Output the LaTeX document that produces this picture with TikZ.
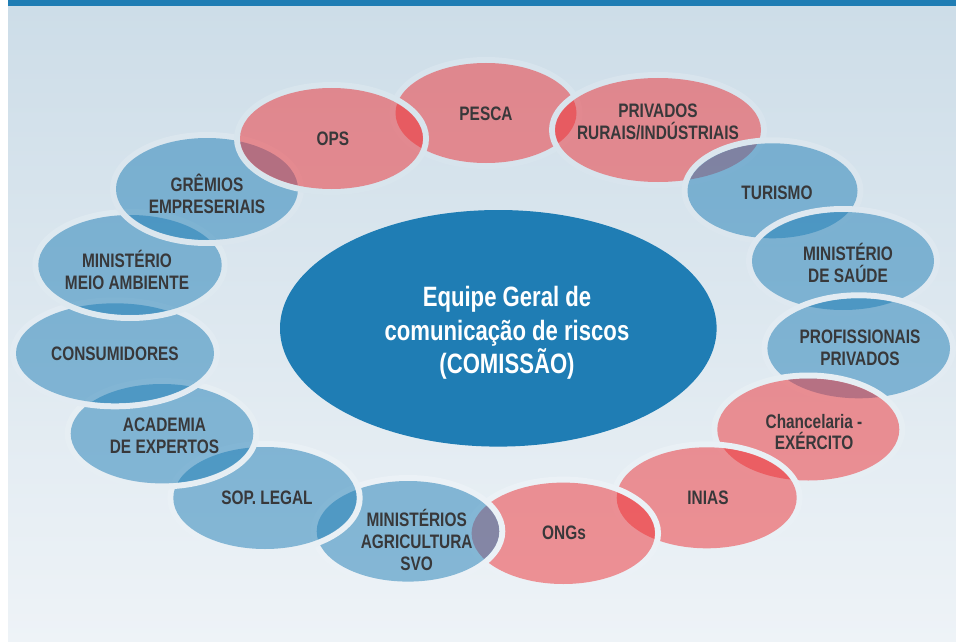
\documentclass[tikz,border=0pt]{standalone}
\usepackage{fontspec}
\newfontfamily\condfont[FakeStretch=0.79]{Liberation Sans}
\definecolor{bgtop}{HTML}{CDDDE8}
\definecolor{bgbot}{HTML}{EEF3F7}
\definecolor{hubblue}{HTML}{1F7DB4}
\definecolor{ringblue}{HTML}{1F7EB6}
\definecolor{ringred}{HTML}{EE3034}
\definecolor{txtgray}{HTML}{38383A}

\begin{document}
\begin{tikzpicture}[x=1pt, y=-1pt,
    gap/.style={draw=bgbot!#1!bgtop!90!white, line width=6pt},
    redb/.style={fill=ringred, fill opacity=.5},
    blueb/.style={fill=ringblue, fill opacity=.5},
    lbl/.style={font=\condfont\bfseries\fontsize{19.5}{21.7}\selectfont, text=txtgray, align=center, inner sep=0pt},
    hubtext/.style={font=\condfont\bfseries\fontsize{28}{33.5}\selectfont, text=white, align=center, inner sep=0pt}
]
    \useasboundingbox (0,0) rectangle (956,642);
    % page background and top bar
    \fill[white] (0,0) rectangle (956,642);
    \shade[top color=bgtop, bottom color=bgbot] (8,6) rectangle (956,642);
    \fill[hubblue] (8,0) rectangle (956,6);

    % ring, clockwise from the top (each gap line sits just outside its bubble)
    \draw[gap=17] (486,113) ellipse [x radius=93.5pt, y radius=53pt];
    \fill[redb]   (486,113) ellipse [x radius=90.5pt, y radius=50pt];
    \draw[gap=19] (658,130) ellipse [x radius=106pt, y radius=55pt];
    \fill[redb]   (658,130) ellipse [x radius=103pt, y radius=52pt];
    \draw[gap=29] (772.5,190.8) ellipse [x radius=88pt, y radius=50.5pt];
    \fill[blueb]  (772.5,190.8) ellipse [x radius=85pt, y radius=47.5pt];
    \draw[gap=40] (843,261) ellipse [x radius=94pt, y radius=52pt];
    \fill[blueb]  (843,261) ellipse [x radius=91pt, y radius=49pt];
    \draw[gap=54] (858.7,348.3) ellipse [x radius=94.3pt, y radius=53pt];
    \fill[blueb]  (858.7,348.3) ellipse [x radius=91.3pt, y radius=50pt];
    \draw[gap=67] (808.3,429.5) ellipse [x radius=94pt, y radius=54pt];
    \fill[redb]   (808.3,429.5) ellipse [x radius=91pt, y radius=51pt];
    \draw[gap=77] (706.7,497.8) ellipse [x radius=93pt, y radius=53.5pt];
    \fill[redb]   (706.7,497.8) ellipse [x radius=90pt, y radius=50.5pt];
    \draw[gap=83] (563.3,533.3) ellipse [x radius=94.7pt, y radius=53.7pt];
    \fill[redb]   (563.3,533.3) ellipse [x radius=91.7pt, y radius=50.7pt];
    \draw[gap=83] (408,531.3) ellipse [x radius=94.3pt, y radius=53.3pt];
    \fill[blueb]  (408,531.3) ellipse [x radius=91.3pt, y radius=50.3pt];
    \draw[gap=77] (265,498) ellipse [x radius=94.7pt, y radius=54pt];
    \fill[blueb]  (265,498) ellipse [x radius=91.7pt, y radius=51pt];
    \draw[gap=67] (162,433.7) ellipse [x radius=94.3pt, y radius=52.7pt];
    \fill[blueb]  (162,433.7) ellipse [x radius=91.3pt, y radius=49.7pt];
    \draw[gap=55] (115,353.3) ellipse [x radius=102pt, y radius=53pt];
    \fill[blueb]  (115,353.3) ellipse [x radius=99pt, y radius=50pt];
    \draw[gap=41] (130,265) ellipse [x radius=94.7pt, y radius=53pt];
    \fill[blueb]  (130,265) ellipse [x radius=91.7pt, y radius=50pt];
    \draw[gap=29] (207,189) ellipse [x radius=94pt, y radius=54pt];
    \fill[blueb]  (207,189) ellipse [x radius=91pt, y radius=51pt];
    \draw[gap=21] (331.5,138.5) ellipse [x radius=94.5pt, y radius=53.5pt];
    \fill[redb]   (331.5,138.5) ellipse [x radius=91.5pt, y radius=50.5pt];

    % central team
    \fill[hubblue] (498.3,328.3) ellipse [x radius=218.3pt, y radius=118.3pt];
    \node[hubtext] (equipe) at (507,333) {Equipe Geral de\\comunicação de riscos\\(COMISSÃO)};

    % labels
    \node[lbl] (pesca) at (486,114) {PESCA};
    \node[lbl] (privados) at (658,122) {PRIVADOS\\RURAIS/INDÚSTRIAIS};
    \node[lbl] (turismo) at (777,193) {TURISMO};
    \node[lbl] (saude) at (848,263) {MINISTÉRIO\\DE SAÚDE};
    \node[lbl] (profissionais) at (860,347.5) {PROFISSIONAIS\\PRIVADOS};
    \node[lbl] (chancelaria) at (814,432) {Chancelaria -\\EXÉRCITO};
    \node[lbl] (inias) at (708,497.7) {INIAS};
    \node[lbl] (ongs) at (564,533) {ONGs};
    \node[lbl] (agricultura) at (416.7,540) {MINISTÉRIOS\\AGRICULTURA\\SVO};
    \node[lbl] (legal) at (267,498) {SOP. LEGAL};
    \node[lbl] (academia) at (164.5,436) {ACADEMIA\\DE EXPERTOS};
    \node[lbl] (consumidores) at (115,354) {CONSUMIDORES};
    \node[lbl] (ambiente) at (127,270) {MINISTÉRIO\\MEIO AMBIENTE};
    \node[lbl] (gremios) at (207,194) {GRÊMIOS\\EMPRESERIAIS};
    \node[lbl] (ops) at (333,139) {OPS};
\end{tikzpicture}
\end{document}
